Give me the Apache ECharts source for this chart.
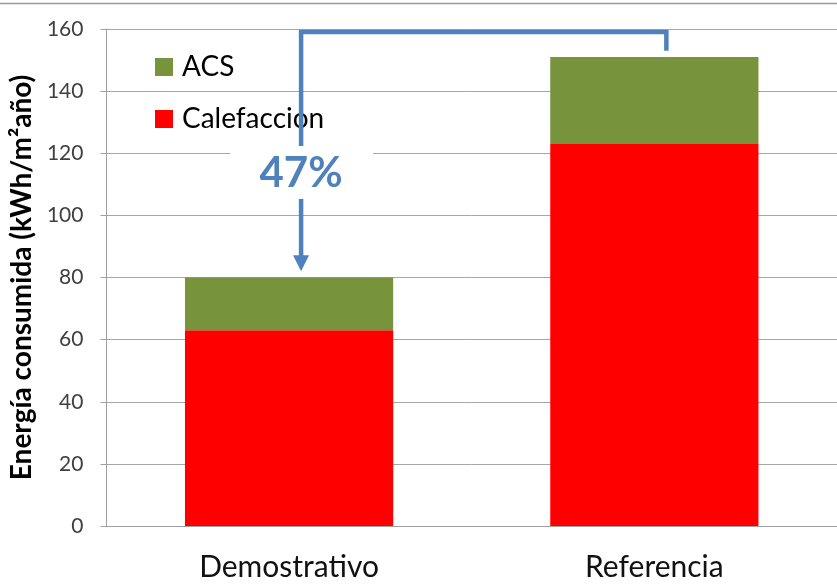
<!DOCTYPE html>
<html>
<head>
<meta charset="utf-8">
<script src="https://cdn.jsdelivr.net/npm/echarts@6/dist/echarts.min.js"></script>
<style>
  html, body { margin: 0; padding: 0; background: #ffffff; }
  #chart { width: 837px; height: 584px; }
</style>
</head>
<body>
<div id="chart"></div>
<script>
// Consumo energético por caso
const categories = ['Demostrativo', 'Referencia'];
const calefaccion = [63, 123];
const acs = [17, 28];
const yMin = 0;
const yMax = 160;
const yStep = 20;

// Conector de comparación (valores en el eje Y)
const connectorTop = 159;
const connectorRightEnd = 153;
const arrowTip = 82;
const labelLevel = 114;

const FONT = 'Lato, "Open Sans", sans-serif';
const BLUE = '#4f81bd';

const totals = categories.map((_, i) => calefaccion[i] + acs[i]);
const saving = Math.round((1 - totals[0] / totals[1]) * 100);

const chart = echarts.init(document.getElementById('chart'));

chart.setOption({
  backgroundColor: '#ffffff',
  animation: false,
  textStyle: { fontFamily: FONT },
  grid: { left: 106, width: 736, top: 29, bottom: 58, containLabel: false },
  legend: {
    orient: 'vertical',
    left: 155,
    top: 53,
    padding: 0,
    itemWidth: 18,
    itemHeight: 18,
    itemGap: 24,
    icon: 'rect',
    data: ['ACS', 'Calefaccion'],
    textStyle: { fontFamily: FONT, fontSize: 28, color: '#000000', padding: [0, 0, 0, 4] }
  },
  xAxis: {
    type: 'category',
    data: categories,
    axisLine: { lineStyle: { color: '#a0a0a0', width: 1 } },
    axisTick: { show: false },
    axisLabel: { fontFamily: FONT, fontSize: 30, color: '#111111', margin: 26 }
  },
  yAxis: {
    type: 'value',
    min: yMin,
    max: yMax,
    interval: yStep,
    name: 'Energía consumida (kWh/m²año)',
    nameLocation: 'middle',
    nameGap: 66,
    nameTextStyle: { fontFamily: FONT, fontSize: 28, fontWeight: 'bold', color: '#000000' },
    axisLine: { show: true, lineStyle: { color: '#a0a0a0', width: 1 } },
    axisTick: { show: true, length: 6, lineStyle: { color: '#a0a0a0' } },
    axisLabel: { fontFamily: FONT, fontSize: 21, color: '#404040', margin: 23 },
    splitLine: { lineStyle: { color: '#a6a6a6', width: 1 } }
  },
  series: [
    {
      name: 'Calefaccion',
      type: 'bar',
      stack: 'total',
      barWidth: '57%',
      itemStyle: { color: '#ff0000' },
      data: calefaccion
    },
    {
      name: 'ACS',
      type: 'bar',
      stack: 'total',
      barWidth: '57%',
      itemStyle: { color: '#77933c' },
      data: acs
    }
  ]
});

// Flecha de comparación y porcentaje de ahorro
function px(cat, val) {
  return chart.convertToPixel({ xAxisIndex: 0, yAxisIndex: 0 }, [cat, val]);
}
const off = 12;
const pTopL = px(categories[0], connectorTop);
const pTopR = px(categories[1], connectorTop);
const pEndR = px(categories[1], connectorRightEnd);
const pTip = px(categories[0], arrowTip);
const pLbl = px(categories[0], labelLevel);
const xL = pTopL[0] + off;
const xR = pTopR[0] + off;
const headLen = 16;

chart.setOption({
  graphic: [
    {
      type: 'line',
      shape: { x1: 0, y1: 3.5, x2: 837, y2: 3.5 },
      style: { stroke: '#999999', lineWidth: 1.5 },
      z: 50
    },
    {
      type: 'polyline',
      shape: { points: [[xR, pEndR[1]], [xR, pTopR[1]], [xL, pTopL[1]], [xL, pTip[1] - headLen + 1]] },
      style: { stroke: BLUE, lineWidth: 4.5, fill: null },
      z: 50
    },
    {
      type: 'polygon',
      shape: { points: [[xL - 8, pTip[1] - headLen], [xL + 8, pTip[1] - headLen], [xL, pTip[1]]] },
      style: { fill: BLUE },
      z: 50
    },
    {
      type: 'rect',
      shape: { x: xL - 71, y: pLbl[1] - 26, width: 143, height: 53 },
      style: { fill: '#ffffff' },
      z: 51
    },
    {
      type: 'text',
      x: xL,
      y: pLbl[1] + 2,
      style: {
        text: saving + '%',
        fill: BLUE,
        font: 'bold 42px ' + FONT,
        textAlign: 'center',
        textVerticalAlign: 'middle'
      },
      z: 52
    }
  ]
});
</script>
</body>
</html>
